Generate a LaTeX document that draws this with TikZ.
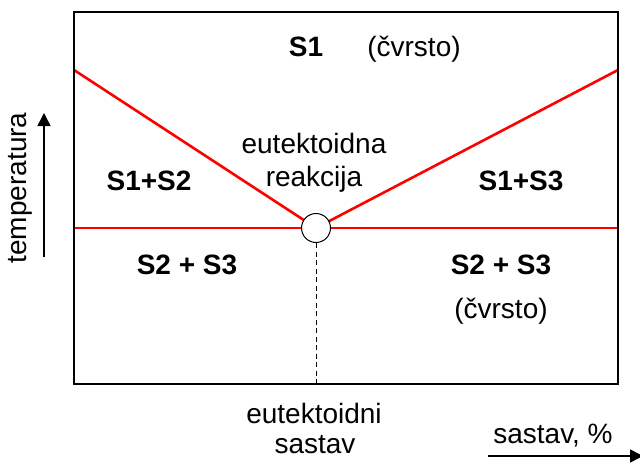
\documentclass[tikz,border=0pt]{standalone}
\usepackage{fontspec}
\setmainfont{Liberation Sans}
\usetikzlibrary{arrows.meta}
\tikzset{
  lbl/.style={anchor=base,inner sep=0pt,font=\fontsize{28}{32}\selectfont},
  blbl/.style={lbl,font=\fontsize{28}{32}\selectfont\bfseries},
  phase/.style={draw=red,line width=2.6pt},
  axisarrow/.style={line width=1.5pt,-{Triangle[length=13pt,width=13pt]}},
}
\begin{document}
\begin{tikzpicture}[x=1pt,y=-1pt]
\useasboundingbox[fill=white] (0,0) rectangle (640,463);
% coordinates
\coordinate (L) at (74,70);
\coordinate (R) at (618,70);
\coordinate (E) at (316,228);
\coordinate (HL) at (74,228);
\coordinate (HR) at (618,228);
\coordinate (B) at (316,384);
% phase boundaries
\draw[phase] (L) -- (E) -- (R);
\draw[phase] (HL) -- (HR);
% box
\draw[line width=2.4pt] (74,12) rectangle (618,384);
% eutectoid point
\node[circle,draw=black,fill=white,line width=1pt,minimum size=29pt,inner sep=0pt] (eut) at (E) {};
\draw[line width=1pt,dash pattern=on 5pt off 3.5pt] (eut.south) -- (B);
% labels
\node[blbl] (s1) at (306,56) {S1};
\node[lbl] (cv1) at (414,56) {(čvrsto)};
\node[lbl] (eu1) at (314,153) {eutektoidna};
\node[lbl] (re) at (314,186) {reakcija};
\node[blbl] (s12) at (149,190) {S1+S2};
\node[blbl] (s13) at (521,190) {S1+S3};
\node[blbl] (s23a) at (187,274) {S2 + S3};
\node[blbl] (s23b) at (501,274) {S2 + S3};
\node[lbl] (cv2) at (501,318) {(čvrsto)};
\node[lbl] (eu2) at (314,423) {eutektoidni};
\node[lbl] (sa) at (315,453) {sastav};
\node[lbl] (sx) at (553,443) {sastav, \%};
\node[lbl,rotate=90] (temp) at (26,188) {temperatura};
% axis arrows
\coordinate (TA) at (44,257);
\coordinate (TB) at (44,113);
\draw[axisarrow] (TA) -- (TB);
\coordinate (XA) at (488,456);
\coordinate (XB) at (643,456);
\draw[axisarrow] (XA) -- (XB);
\end{tikzpicture}
\end{document}
